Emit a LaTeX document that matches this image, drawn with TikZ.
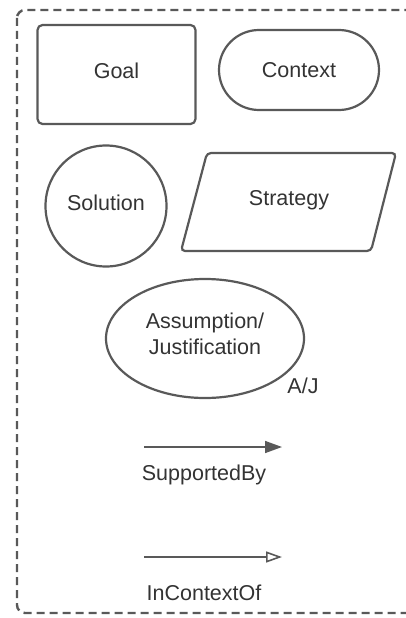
\documentclass[tikz,border=0pt]{standalone}
\usepackage{fontspec}
\setmainfont{Liberation Sans}
\usetikzlibrary{arrows.meta, positioning, shapes.geometric}
\definecolor{lineGrey}{HTML}{595959}
\definecolor{textGrey}{HTML}{333333}

\begin{document}
\begin{tikzpicture}[
    x=1pt, y=-1pt,
    every node/.style={text=textGrey, font=\fontsize{21.5}{26}\selectfont, inner sep=0pt},
    shapebox/.style={draw=lineGrey, line width=2.2pt},
    legendarrow/.style={draw=lineGrey, line width=1.6pt},
    >=Stealth
  ]
  \useasboundingbox (0,0) rectangle (406,618);
  % dashed frame, cut off on the right
  \begin{scope}
    \clip (0,0) rectangle (406,618);
    \draw[lineGrey, line width=2.4pt, dash pattern=on 8pt off 5pt, rounded corners=8pt]
      (17,10) rectangle (440,613);
  \end{scope}
  % element shapes
  \node [shapebox, rectangle, rounded corners=5pt, minimum width=158pt, minimum height=99pt, text depth=7pt] (goal) at (116.5,74.5) {Goal};
  \node [shapebox, rectangle, rounded corners=40pt, minimum width=160pt, minimum height=80pt] (context) at (299,70) {Context};
  \node [shapebox, circle, minimum size=121pt, text depth=6pt] (solution) at (106,206) {Solution};
  % strategy parallelogram
  \coordinate (st-bl) at (181,251);
  \coordinate (st-tl) at (207,153);
  \coordinate (st-tr) at (396,153);
  \coordinate (st-br) at (371,251);
  \draw [shapebox, rounded corners=4pt] (st-bl) -- (st-tl) -- (st-tr) -- (st-br) -- cycle;
  \node (strategy) at (289,200) {Strategy};
  \node [shapebox, ellipse, minimum width=198pt, minimum height=119pt, align=center, text depth=9pt] (assumption) at (205,338.5) {Assumption/\\Justification};
  \node (aj) at (303,386) {A/J};
  % legend arrows
  \coordinate (sb-start) at (144,447);
  \coordinate (sb-end) at (282,447);
  \draw [legendarrow, -{Triangle[length=17pt, width=12pt]}, lineGrey] (sb-start) -- (sb-end);
  \node (supported) at (204,475) {SupportedBy};
  \coordinate (ic-start) at (144,557);
  \coordinate (ic-end) at (282,557);
  \draw [legendarrow, -{Triangle[open, length=16pt, width=11pt]}, lineGrey] (ic-start) -- (ic-end);
  \node (incontext) at (204,593) {InContextOf};
\end{tikzpicture}
\end{document}
